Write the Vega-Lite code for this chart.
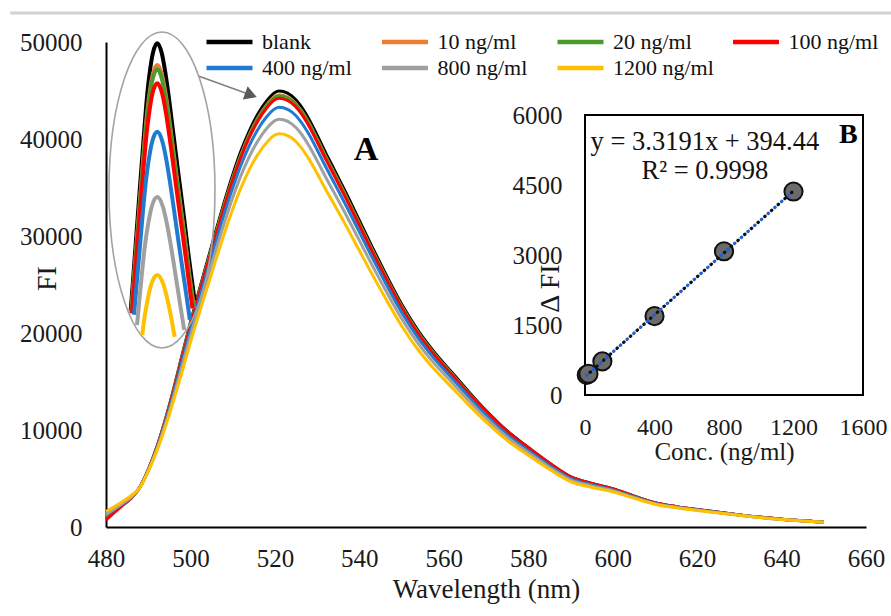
{
"$schema": "https://vega.github.io/schema/vega-lite/v6.json",
"width": 760, "height": 485,
"autosize": {"type": "none"},
"padding": {"left": 106, "top": 42, "right": 25, "bottom": 89},
"background": "white",
"config": {"view": {"stroke": null}, "font": "Liberation Serif"},
"datasets": {
"spectra": [
{"nm":480,"sample":"blank","FI":900},{"nm":480,"sample":"10 ng/ml","FI":1000},{"nm":480,"sample":"20 ng/ml","FI":950},{"nm":480,"sample":"100 ng/ml","FI":700},{"nm":480,"sample":"400 ng/ml","FI":1200},{"nm":480,"sample":"800 ng/ml","FI":1300},{"nm":480,"sample":"1200 ng/ml","FI":1600},
{"nm":482,"sample":"blank","FI":1600},{"nm":482,"sample":"10 ng/ml","FI":1650},{"nm":482,"sample":"20 ng/ml","FI":1620},{"nm":482,"sample":"100 ng/ml","FI":1500},{"nm":482,"sample":"400 ng/ml","FI":1800},{"nm":482,"sample":"800 ng/ml","FI":1850},{"nm":482,"sample":"1200 ng/ml","FI":2100},
{"nm":484,"sample":"blank","FI":2300},{"nm":484,"sample":"10 ng/ml","FI":2320},{"nm":484,"sample":"20 ng/ml","FI":2310},{"nm":484,"sample":"100 ng/ml","FI":2250},{"nm":484,"sample":"400 ng/ml","FI":2400},{"nm":484,"sample":"800 ng/ml","FI":2450},{"nm":484,"sample":"1200 ng/ml","FI":2650},
{"nm":486,"sample":"blank","FI":3000},{"nm":486,"sample":"10 ng/ml","FI":3000},{"nm":486,"sample":"20 ng/ml","FI":3000},{"nm":486,"sample":"100 ng/ml","FI":2980},{"nm":486,"sample":"400 ng/ml","FI":3050},{"nm":486,"sample":"800 ng/ml","FI":3080},{"nm":486,"sample":"1200 ng/ml","FI":3250},
{"nm":488,"sample":"blank","FI":4100},{"nm":488,"sample":"10 ng/ml","FI":4100},{"nm":488,"sample":"20 ng/ml","FI":4100},{"nm":488,"sample":"100 ng/ml","FI":4090},{"nm":488,"sample":"400 ng/ml","FI":4080},{"nm":488,"sample":"800 ng/ml","FI":4070},{"nm":488,"sample":"1200 ng/ml","FI":4060},
{"nm":490,"sample":"blank","FI":5900},{"nm":490,"sample":"10 ng/ml","FI":5880},{"nm":490,"sample":"20 ng/ml","FI":5880},{"nm":490,"sample":"100 ng/ml","FI":5870},{"nm":490,"sample":"400 ng/ml","FI":5830},{"nm":490,"sample":"800 ng/ml","FI":5790},{"nm":490,"sample":"1200 ng/ml","FI":5730},
{"nm":492,"sample":"blank","FI":8200},{"nm":492,"sample":"10 ng/ml","FI":8160},{"nm":492,"sample":"20 ng/ml","FI":8160},{"nm":492,"sample":"100 ng/ml","FI":8130},{"nm":492,"sample":"400 ng/ml","FI":8050},{"nm":492,"sample":"800 ng/ml","FI":7930},{"nm":492,"sample":"1200 ng/ml","FI":7800},
{"nm":494,"sample":"blank","FI":11000},{"nm":494,"sample":"10 ng/ml","FI":10930},{"nm":494,"sample":"20 ng/ml","FI":10920},{"nm":494,"sample":"100 ng/ml","FI":10870},{"nm":494,"sample":"400 ng/ml","FI":10710},{"nm":494,"sample":"800 ng/ml","FI":10500},{"nm":494,"sample":"1200 ng/ml","FI":10250},
{"nm":496,"sample":"blank","FI":14200},{"nm":496,"sample":"10 ng/ml","FI":14090},{"nm":496,"sample":"20 ng/ml","FI":14070},{"nm":496,"sample":"100 ng/ml","FI":14000},{"nm":496,"sample":"400 ng/ml","FI":13750},{"nm":496,"sample":"800 ng/ml","FI":13420},{"nm":496,"sample":"1200 ng/ml","FI":13020},
{"nm":498,"sample":"blank","FI":17700},{"nm":498,"sample":"10 ng/ml","FI":17540},{"nm":498,"sample":"20 ng/ml","FI":17510},{"nm":498,"sample":"100 ng/ml","FI":17400},{"nm":498,"sample":"400 ng/ml","FI":17040},{"nm":498,"sample":"800 ng/ml","FI":16550},{"nm":498,"sample":"1200 ng/ml","FI":15970},
{"nm":500,"sample":"blank","FI":21100},{"nm":500,"sample":"10 ng/ml","FI":20910},{"nm":500,"sample":"20 ng/ml","FI":20870},{"nm":500,"sample":"100 ng/ml","FI":20740},{"nm":500,"sample":"400 ng/ml","FI":20310},{"nm":500,"sample":"800 ng/ml","FI":19730},{"nm":500,"sample":"1200 ng/ml","FI":19030},
{"nm":502,"sample":"blank","FI":24300},{"nm":502,"sample":"10 ng/ml","FI":24080},{"nm":502,"sample":"20 ng/ml","FI":24040},{"nm":502,"sample":"100 ng/ml","FI":23890},{"nm":502,"sample":"400 ng/ml","FI":23390},{"nm":502,"sample":"800 ng/ml","FI":22720},{"nm":502,"sample":"1200 ng/ml","FI":21920},
{"nm":504,"sample":"blank","FI":27400},{"nm":504,"sample":"10 ng/ml","FI":27150},{"nm":504,"sample":"20 ng/ml","FI":27100},{"nm":504,"sample":"100 ng/ml","FI":26940},{"nm":504,"sample":"400 ng/ml","FI":26380},{"nm":504,"sample":"800 ng/ml","FI":25620},{"nm":504,"sample":"1200 ng/ml","FI":24720},
{"nm":506,"sample":"blank","FI":30500},{"nm":506,"sample":"10 ng/ml","FI":30220},{"nm":506,"sample":"20 ng/ml","FI":30170},{"nm":506,"sample":"100 ng/ml","FI":29990},{"nm":506,"sample":"400 ng/ml","FI":29360},{"nm":506,"sample":"800 ng/ml","FI":28520},{"nm":506,"sample":"1200 ng/ml","FI":27510},
{"nm":508,"sample":"blank","FI":33500},{"nm":508,"sample":"10 ng/ml","FI":33200},{"nm":508,"sample":"20 ng/ml","FI":33140},{"nm":508,"sample":"100 ng/ml","FI":32930},{"nm":508,"sample":"400 ng/ml","FI":32250},{"nm":508,"sample":"800 ng/ml","FI":31320},{"nm":508,"sample":"1200 ng/ml","FI":30220},
{"nm":510,"sample":"blank","FI":36300},{"nm":510,"sample":"10 ng/ml","FI":35970},{"nm":510,"sample":"20 ng/ml","FI":35900},{"nm":510,"sample":"100 ng/ml","FI":35690},{"nm":510,"sample":"400 ng/ml","FI":34940},{"nm":510,"sample":"800 ng/ml","FI":33940},{"nm":510,"sample":"1200 ng/ml","FI":32750},
{"nm":512,"sample":"blank","FI":38800},{"nm":512,"sample":"10 ng/ml","FI":38450},{"nm":512,"sample":"20 ng/ml","FI":38380},{"nm":512,"sample":"100 ng/ml","FI":38140},{"nm":512,"sample":"400 ng/ml","FI":37350},{"nm":512,"sample":"800 ng/ml","FI":36280},{"nm":512,"sample":"1200 ng/ml","FI":35000},
{"nm":514,"sample":"blank","FI":40900},{"nm":514,"sample":"10 ng/ml","FI":40530},{"nm":514,"sample":"20 ng/ml","FI":40450},{"nm":514,"sample":"100 ng/ml","FI":40210},{"nm":514,"sample":"400 ng/ml","FI":39370},{"nm":514,"sample":"800 ng/ml","FI":38240},{"nm":514,"sample":"1200 ng/ml","FI":36900},
{"nm":516,"sample":"blank","FI":42600},{"nm":516,"sample":"10 ng/ml","FI":42210},{"nm":516,"sample":"20 ng/ml","FI":42140},{"nm":516,"sample":"100 ng/ml","FI":41880},{"nm":516,"sample":"400 ng/ml","FI":41010},{"nm":516,"sample":"800 ng/ml","FI":39830},{"nm":516,"sample":"1200 ng/ml","FI":38430},
{"nm":518,"sample":"blank","FI":43900},{"nm":518,"sample":"10 ng/ml","FI":43500},{"nm":518,"sample":"20 ng/ml","FI":43420},{"nm":518,"sample":"100 ng/ml","FI":43160},{"nm":518,"sample":"400 ng/ml","FI":42260},{"nm":518,"sample":"800 ng/ml","FI":41050},{"nm":518,"sample":"1200 ng/ml","FI":39600},
{"nm":520,"sample":"blank","FI":44800},{"nm":520,"sample":"10 ng/ml","FI":44390},{"nm":520,"sample":"20 ng/ml","FI":44310},{"nm":520,"sample":"100 ng/ml","FI":44040},{"nm":520,"sample":"400 ng/ml","FI":43120},{"nm":520,"sample":"800 ng/ml","FI":41890},{"nm":520,"sample":"1200 ng/ml","FI":40410},
{"nm":521,"sample":"blank","FI":44950},{"nm":521,"sample":"10 ng/ml","FI":44540},{"nm":521,"sample":"20 ng/ml","FI":44460},{"nm":521,"sample":"100 ng/ml","FI":44190},{"nm":521,"sample":"400 ng/ml","FI":43270},{"nm":521,"sample":"800 ng/ml","FI":42030},{"nm":521,"sample":"1200 ng/ml","FI":40550},
{"nm":522,"sample":"blank","FI":44900},{"nm":522,"sample":"10 ng/ml","FI":44490},{"nm":522,"sample":"20 ng/ml","FI":44410},{"nm":522,"sample":"100 ng/ml","FI":44140},{"nm":522,"sample":"400 ng/ml","FI":43220},{"nm":522,"sample":"800 ng/ml","FI":41980},{"nm":522,"sample":"1200 ng/ml","FI":40500},
{"nm":524,"sample":"blank","FI":44450},{"nm":524,"sample":"10 ng/ml","FI":44050},{"nm":524,"sample":"20 ng/ml","FI":43970},{"nm":524,"sample":"100 ng/ml","FI":43700},{"nm":524,"sample":"400 ng/ml","FI":42790},{"nm":524,"sample":"800 ng/ml","FI":41560},{"nm":524,"sample":"1200 ng/ml","FI":40100},
{"nm":526,"sample":"blank","FI":43500},{"nm":526,"sample":"10 ng/ml","FI":43100},{"nm":526,"sample":"20 ng/ml","FI":43030},{"nm":526,"sample":"100 ng/ml","FI":42770},{"nm":526,"sample":"400 ng/ml","FI":41870},{"nm":526,"sample":"800 ng/ml","FI":40670},{"nm":526,"sample":"1200 ng/ml","FI":39240},
{"nm":528,"sample":"blank","FI":42100},{"nm":528,"sample":"10 ng/ml","FI":41720},{"nm":528,"sample":"20 ng/ml","FI":41640},{"nm":528,"sample":"100 ng/ml","FI":41390},{"nm":528,"sample":"400 ng/ml","FI":40530},{"nm":528,"sample":"800 ng/ml","FI":39360},{"nm":528,"sample":"1200 ng/ml","FI":37980},
{"nm":530,"sample":"blank","FI":40400},{"nm":530,"sample":"10 ng/ml","FI":40030},{"nm":530,"sample":"20 ng/ml","FI":39960},{"nm":530,"sample":"100 ng/ml","FI":39720},{"nm":530,"sample":"400 ng/ml","FI":38890},{"nm":530,"sample":"800 ng/ml","FI":37770},{"nm":530,"sample":"1200 ng/ml","FI":36450},
{"nm":532,"sample":"blank","FI":38600},{"nm":532,"sample":"10 ng/ml","FI":38250},{"nm":532,"sample":"20 ng/ml","FI":38180},{"nm":532,"sample":"100 ng/ml","FI":37950},{"nm":532,"sample":"400 ng/ml","FI":37160},{"nm":532,"sample":"800 ng/ml","FI":36090},{"nm":532,"sample":"1200 ng/ml","FI":34820},
{"nm":534,"sample":"blank","FI":36900},{"nm":534,"sample":"10 ng/ml","FI":36560},{"nm":534,"sample":"20 ng/ml","FI":36500},{"nm":534,"sample":"100 ng/ml","FI":36280},{"nm":534,"sample":"400 ng/ml","FI":35520},{"nm":534,"sample":"800 ng/ml","FI":34500},{"nm":534,"sample":"1200 ng/ml","FI":33290},
{"nm":537,"sample":"blank","FI":34300},{"nm":537,"sample":"10 ng/ml","FI":33990},{"nm":537,"sample":"20 ng/ml","FI":33930},{"nm":537,"sample":"100 ng/ml","FI":33720},{"nm":537,"sample":"400 ng/ml","FI":33020},{"nm":537,"sample":"800 ng/ml","FI":32070},{"nm":537,"sample":"1200 ng/ml","FI":30940},
{"nm":540,"sample":"blank","FI":31600},{"nm":540,"sample":"10 ng/ml","FI":31310},{"nm":540,"sample":"20 ng/ml","FI":31260},{"nm":540,"sample":"100 ng/ml","FI":31070},{"nm":540,"sample":"400 ng/ml","FI":30420},{"nm":540,"sample":"800 ng/ml","FI":29550},{"nm":540,"sample":"1200 ng/ml","FI":28510},
{"nm":543,"sample":"blank","FI":28900},{"nm":543,"sample":"10 ng/ml","FI":28640},{"nm":543,"sample":"20 ng/ml","FI":28590},{"nm":543,"sample":"100 ng/ml","FI":28410},{"nm":543,"sample":"400 ng/ml","FI":27820},{"nm":543,"sample":"800 ng/ml","FI":27020},{"nm":543,"sample":"1200 ng/ml","FI":26070},
{"nm":546,"sample":"blank","FI":26300},{"nm":546,"sample":"10 ng/ml","FI":26060},{"nm":546,"sample":"20 ng/ml","FI":26010},{"nm":546,"sample":"100 ng/ml","FI":25860},{"nm":546,"sample":"400 ng/ml","FI":25320},{"nm":546,"sample":"800 ng/ml","FI":24590},{"nm":546,"sample":"1200 ng/ml","FI":23730},
{"nm":550,"sample":"blank","FI":23000},{"nm":550,"sample":"10 ng/ml","FI":22790},{"nm":550,"sample":"20 ng/ml","FI":22750},{"nm":550,"sample":"100 ng/ml","FI":22610},{"nm":550,"sample":"400 ng/ml","FI":22140},{"nm":550,"sample":"800 ng/ml","FI":21510},{"nm":550,"sample":"1200 ng/ml","FI":20750},
{"nm":554,"sample":"blank","FI":20200},{"nm":554,"sample":"10 ng/ml","FI":20020},{"nm":554,"sample":"20 ng/ml","FI":19980},{"nm":554,"sample":"100 ng/ml","FI":19860},{"nm":554,"sample":"400 ng/ml","FI":19450},{"nm":554,"sample":"800 ng/ml","FI":18890},{"nm":554,"sample":"1200 ng/ml","FI":18220},
{"nm":558,"sample":"blank","FI":17900},{"nm":558,"sample":"10 ng/ml","FI":17740},{"nm":558,"sample":"20 ng/ml","FI":17710},{"nm":558,"sample":"100 ng/ml","FI":17600},{"nm":558,"sample":"400 ng/ml","FI":17230},{"nm":558,"sample":"800 ng/ml","FI":16740},{"nm":558,"sample":"1200 ng/ml","FI":16150},
{"nm":562,"sample":"blank","FI":15900},{"nm":562,"sample":"10 ng/ml","FI":15760},{"nm":562,"sample":"20 ng/ml","FI":15730},{"nm":562,"sample":"100 ng/ml","FI":15630},{"nm":562,"sample":"400 ng/ml","FI":15310},{"nm":562,"sample":"800 ng/ml","FI":14870},{"nm":562,"sample":"1200 ng/ml","FI":14340},
{"nm":566,"sample":"blank","FI":13900},{"nm":566,"sample":"10 ng/ml","FI":13770},{"nm":566,"sample":"20 ng/ml","FI":13750},{"nm":566,"sample":"100 ng/ml","FI":13670},{"nm":566,"sample":"400 ng/ml","FI":13380},{"nm":566,"sample":"800 ng/ml","FI":13000},{"nm":566,"sample":"1200 ng/ml","FI":12540},
{"nm":570,"sample":"blank","FI":12000},{"nm":570,"sample":"10 ng/ml","FI":11890},{"nm":570,"sample":"20 ng/ml","FI":11870},{"nm":570,"sample":"100 ng/ml","FI":11960},{"nm":570,"sample":"400 ng/ml","FI":11550},{"nm":570,"sample":"800 ng/ml","FI":11220},{"nm":570,"sample":"1200 ng/ml","FI":10830},
{"nm":575,"sample":"blank","FI":9900},{"nm":575,"sample":"10 ng/ml","FI":9810},{"nm":575,"sample":"20 ng/ml","FI":9790},{"nm":575,"sample":"100 ng/ml","FI":9870},{"nm":575,"sample":"400 ng/ml","FI":9530},{"nm":575,"sample":"800 ng/ml","FI":9260},{"nm":575,"sample":"1200 ng/ml","FI":8930},
{"nm":580,"sample":"blank","FI":8200},{"nm":580,"sample":"10 ng/ml","FI":8130},{"nm":580,"sample":"20 ng/ml","FI":8110},{"nm":580,"sample":"100 ng/ml","FI":8170},{"nm":580,"sample":"400 ng/ml","FI":7890},{"nm":580,"sample":"800 ng/ml","FI":7670},{"nm":580,"sample":"1200 ng/ml","FI":7400},
{"nm":585,"sample":"blank","FI":6600},{"nm":585,"sample":"10 ng/ml","FI":6540},{"nm":585,"sample":"20 ng/ml","FI":6530},{"nm":585,"sample":"100 ng/ml","FI":6580},{"nm":585,"sample":"400 ng/ml","FI":6350},{"nm":585,"sample":"800 ng/ml","FI":6170},{"nm":585,"sample":"1200 ng/ml","FI":5950},
{"nm":590,"sample":"blank","FI":5200},{"nm":590,"sample":"10 ng/ml","FI":5150},{"nm":590,"sample":"20 ng/ml","FI":5140},{"nm":590,"sample":"100 ng/ml","FI":5180},{"nm":590,"sample":"400 ng/ml","FI":5010},{"nm":590,"sample":"800 ng/ml","FI":4860},{"nm":590,"sample":"1200 ng/ml","FI":4690},
{"nm":595,"sample":"blank","FI":4500},{"nm":595,"sample":"10 ng/ml","FI":4460},{"nm":595,"sample":"20 ng/ml","FI":4460},{"nm":595,"sample":"100 ng/ml","FI":4490},{"nm":595,"sample":"400 ng/ml","FI":4350},{"nm":595,"sample":"800 ng/ml","FI":4240},{"nm":595,"sample":"1200 ng/ml","FI":4100},
{"nm":600,"sample":"blank","FI":3950},{"nm":600,"sample":"10 ng/ml","FI":3920},{"nm":600,"sample":"20 ng/ml","FI":3920},{"nm":600,"sample":"100 ng/ml","FI":3940},{"nm":600,"sample":"400 ng/ml","FI":3830},{"nm":600,"sample":"800 ng/ml","FI":3750},{"nm":600,"sample":"1200 ng/ml","FI":3640},
{"nm":605,"sample":"blank","FI":3200},{"nm":605,"sample":"10 ng/ml","FI":3180},{"nm":605,"sample":"20 ng/ml","FI":3180},{"nm":605,"sample":"100 ng/ml","FI":3190},{"nm":605,"sample":"400 ng/ml","FI":3120},{"nm":605,"sample":"800 ng/ml","FI":3050},{"nm":605,"sample":"1200 ng/ml","FI":2980},
{"nm":610,"sample":"blank","FI":2500},{"nm":610,"sample":"10 ng/ml","FI":2490},{"nm":610,"sample":"20 ng/ml","FI":2480},{"nm":610,"sample":"100 ng/ml","FI":2500},{"nm":610,"sample":"400 ng/ml","FI":2440},{"nm":610,"sample":"800 ng/ml","FI":2400},{"nm":610,"sample":"1200 ng/ml","FI":2350},
{"nm":615,"sample":"blank","FI":2100},{"nm":615,"sample":"10 ng/ml","FI":2090},{"nm":615,"sample":"20 ng/ml","FI":2090},{"nm":615,"sample":"100 ng/ml","FI":2100},{"nm":615,"sample":"400 ng/ml","FI":2060},{"nm":615,"sample":"800 ng/ml","FI":2030},{"nm":615,"sample":"1200 ng/ml","FI":1990},
{"nm":620,"sample":"blank","FI":1800},{"nm":620,"sample":"10 ng/ml","FI":1790},{"nm":620,"sample":"20 ng/ml","FI":1790},{"nm":620,"sample":"100 ng/ml","FI":1800},{"nm":620,"sample":"400 ng/ml","FI":1770},{"nm":620,"sample":"800 ng/ml","FI":1740},{"nm":620,"sample":"1200 ng/ml","FI":1710},
{"nm":630,"sample":"blank","FI":1250},{"nm":630,"sample":"10 ng/ml","FI":1250},{"nm":630,"sample":"20 ng/ml","FI":1240},{"nm":630,"sample":"100 ng/ml","FI":1250},{"nm":630,"sample":"400 ng/ml","FI":1230},{"nm":630,"sample":"800 ng/ml","FI":1210},{"nm":630,"sample":"1200 ng/ml","FI":1200},
{"nm":640,"sample":"blank","FI":800},{"nm":640,"sample":"10 ng/ml","FI":800},{"nm":640,"sample":"20 ng/ml","FI":800},{"nm":640,"sample":"100 ng/ml","FI":800},{"nm":640,"sample":"400 ng/ml","FI":790},{"nm":640,"sample":"800 ng/ml","FI":780},{"nm":640,"sample":"1200 ng/ml","FI":770},
{"nm":650,"sample":"blank","FI":500},{"nm":650,"sample":"10 ng/ml","FI":500},{"nm":650,"sample":"20 ng/ml","FI":500},{"nm":650,"sample":"100 ng/ml","FI":500},{"nm":650,"sample":"400 ng/ml","FI":490},{"nm":650,"sample":"800 ng/ml","FI":490},{"nm":650,"sample":"1200 ng/ml","FI":480}
],
"lens": [
{"nm":514.18,"sample":"blank","FI":39877},{"nm":514.72,"sample":"blank","FI":40390},{"nm":515.28,"sample":"blank","FI":40960},{"nm":515.95,"sample":"blank","FI":41625},{"nm":516.56,"sample":"blank","FI":42233},{"nm":517.21,"sample":"blank","FI":42860},{"nm":517.85,"sample":"blank","FI":43487},{"nm":518.44,"sample":"blank","FI":44000},{"nm":519.13,"sample":"blank","FI":44437},{"nm":519.85,"sample":"blank","FI":44760},{"nm":521,"sample":"blank","FI":44950},{"nm":522.15,"sample":"blank","FI":44760},{"nm":522.97,"sample":"blank","FI":44437},{"nm":523.82,"sample":"blank","FI":44000},{"nm":524.69,"sample":"blank","FI":43487},{"nm":525.74,"sample":"blank","FI":42860},{"nm":526.82,"sample":"blank","FI":42233},{"nm":527.87,"sample":"blank","FI":41625},{"nm":528.95,"sample":"blank","FI":40960},{"nm":529.97,"sample":"blank","FI":40390},{"nm":530.56,"sample":"blank","FI":40067},
{"nm":514.33,"sample":"10 ng/ml","FI":39828},{"nm":514.49,"sample":"10 ng/ml","FI":39980},{"nm":515.08,"sample":"10 ng/ml","FI":40550},{"nm":515.77,"sample":"10 ng/ml","FI":41215},{"nm":516.41,"sample":"10 ng/ml","FI":41823},{"nm":517.07,"sample":"10 ng/ml","FI":42450},{"nm":517.73,"sample":"10 ng/ml","FI":43077},{"nm":518.34,"sample":"10 ng/ml","FI":43590},{"nm":519.06,"sample":"10 ng/ml","FI":44027},{"nm":519.81,"sample":"10 ng/ml","FI":44350},{"nm":521,"sample":"10 ng/ml","FI":44540},{"nm":522.2,"sample":"10 ng/ml","FI":44350},{"nm":523.05,"sample":"10 ng/ml","FI":44027},{"nm":523.92,"sample":"10 ng/ml","FI":43590},{"nm":524.83,"sample":"10 ng/ml","FI":43077},{"nm":525.91,"sample":"10 ng/ml","FI":42450},{"nm":527.03,"sample":"10 ng/ml","FI":41823},{"nm":528.12,"sample":"10 ng/ml","FI":41215},{"nm":529.23,"sample":"10 ng/ml","FI":40550},{"nm":530.3,"sample":"10 ng/ml","FI":39980},{"nm":530.4,"sample":"10 ng/ml","FI":39923},
{"nm":514.37,"sample":"20 ng/ml","FI":39824},{"nm":514.45,"sample":"20 ng/ml","FI":39900},{"nm":515.04,"sample":"20 ng/ml","FI":40470},{"nm":515.73,"sample":"20 ng/ml","FI":41135},{"nm":516.37,"sample":"20 ng/ml","FI":41743},{"nm":517.04,"sample":"20 ng/ml","FI":42370},{"nm":517.71,"sample":"20 ng/ml","FI":42997},{"nm":518.33,"sample":"20 ng/ml","FI":43510},{"nm":519.05,"sample":"20 ng/ml","FI":43947},{"nm":519.8,"sample":"20 ng/ml","FI":44270},{"nm":521,"sample":"20 ng/ml","FI":44460},{"nm":522.2,"sample":"20 ng/ml","FI":44270},{"nm":523.06,"sample":"20 ng/ml","FI":43947},{"nm":523.94,"sample":"20 ng/ml","FI":43510},{"nm":524.85,"sample":"20 ng/ml","FI":42997},{"nm":525.95,"sample":"20 ng/ml","FI":42370},{"nm":527.07,"sample":"20 ng/ml","FI":41743},{"nm":528.17,"sample":"20 ng/ml","FI":41135},{"nm":529.29,"sample":"20 ng/ml","FI":40470},{"nm":530.29,"sample":"20 ng/ml","FI":39938},
{"nm":514.5,"sample":"100 ng/ml","FI":39820},{"nm":514.9,"sample":"100 ng/ml","FI":40200},{"nm":515.61,"sample":"100 ng/ml","FI":40865},{"nm":516.27,"sample":"100 ng/ml","FI":41473},{"nm":516.95,"sample":"100 ng/ml","FI":42100},{"nm":517.64,"sample":"100 ng/ml","FI":42727},{"nm":518.26,"sample":"100 ng/ml","FI":43240},{"nm":519,"sample":"100 ng/ml","FI":43677},{"nm":519.77,"sample":"100 ng/ml","FI":44000},{"nm":521,"sample":"100 ng/ml","FI":44190},{"nm":522.23,"sample":"100 ng/ml","FI":44000},{"nm":523.11,"sample":"100 ng/ml","FI":43677},{"nm":524.01,"sample":"100 ng/ml","FI":43240},{"nm":524.94,"sample":"100 ng/ml","FI":42727},{"nm":526.06,"sample":"100 ng/ml","FI":42100},{"nm":527.21,"sample":"100 ng/ml","FI":41473},{"nm":528.33,"sample":"100 ng/ml","FI":40865},{"nm":529.48,"sample":"100 ng/ml","FI":40200},{"nm":530.03,"sample":"100 ng/ml","FI":39915},
{"nm":515.03,"sample":"400 ng/ml","FI":39793},{"nm":515.21,"sample":"400 ng/ml","FI":39945},{"nm":515.91,"sample":"400 ng/ml","FI":40553},{"nm":516.65,"sample":"400 ng/ml","FI":41180},{"nm":517.38,"sample":"400 ng/ml","FI":41807},{"nm":518.06,"sample":"400 ng/ml","FI":42320},{"nm":518.85,"sample":"400 ng/ml","FI":42757},{"nm":519.68,"sample":"400 ng/ml","FI":43080},{"nm":521,"sample":"400 ng/ml","FI":43270},{"nm":522.32,"sample":"400 ng/ml","FI":43080},{"nm":523.27,"sample":"400 ng/ml","FI":42757},{"nm":524.24,"sample":"400 ng/ml","FI":42320},{"nm":525.24,"sample":"400 ng/ml","FI":41807},{"nm":526.44,"sample":"400 ng/ml","FI":41180},{"nm":527.68,"sample":"400 ng/ml","FI":40553},{"nm":528.88,"sample":"400 ng/ml","FI":39945},{"nm":529.34,"sample":"400 ng/ml","FI":39698},
{"nm":515.8,"sample":"800 ng/ml","FI":39598},{"nm":516.23,"sample":"800 ng/ml","FI":39940},{"nm":517.04,"sample":"800 ng/ml","FI":40567},{"nm":517.78,"sample":"800 ng/ml","FI":41080},{"nm":518.65,"sample":"800 ng/ml","FI":41517},{"nm":519.55,"sample":"800 ng/ml","FI":41840},{"nm":521,"sample":"800 ng/ml","FI":42030},{"nm":522.45,"sample":"800 ng/ml","FI":41840},{"nm":523.48,"sample":"800 ng/ml","FI":41517},{"nm":524.54,"sample":"800 ng/ml","FI":41080},{"nm":525.64,"sample":"800 ng/ml","FI":40567},{"nm":526.96,"sample":"800 ng/ml","FI":39940},{"nm":527.9,"sample":"800 ng/ml","FI":39503},
{"nm":517.15,"sample":"1200 ng/ml","FI":39410},{"nm":517.45,"sample":"1200 ng/ml","FI":39600},{"nm":518.41,"sample":"1200 ng/ml","FI":40037},{"nm":519.4,"sample":"1200 ng/ml","FI":40360},{"nm":521,"sample":"1200 ng/ml","FI":40550},{"nm":522.6,"sample":"1200 ng/ml","FI":40360},{"nm":523.73,"sample":"1200 ng/ml","FI":40037},{"nm":524.91,"sample":"1200 ng/ml","FI":39600},{"nm":525.44,"sample":"1200 ng/ml","FI":39372}
],
"cal": [
{"conc":10,"dfi":430},{"conc":20,"dfi":455},{"conc":100,"dfi":720},{"conc":400,"dfi":1690},{"conc":800,"dfi":3080},{"conc":1200,"dfi":4360}
]
},
"layer": [
{
"layer": [
{
"data": {"name": "spectra"},
"mark": {"type": "line", "strokeWidth": 3, "interpolate": "monotone"},
"encoding": {
"x": {"field": "nm", "type": "quantitative",
"scale": {"domain": [480, 660], "nice": false, "zero": false},
"axis": {"title": "Wavelength (nm)", "values": [480,500,520,540,560,580,600,620,640,660], "ticks": false, "grid": false, "domainColor": "#000", "domainWidth": 2, "labelFont": "Liberation Serif", "labelFontSize": 25, "labelColor": "#1a1a1a", "labelPadding": 19, "labelFlush": false, "titleFont": "Liberation Serif", "titleFontSize": 27, "titleFontWeight": "normal", "titleColor": "#1a1a1a", "titlePadding": 5}},
"y": {"field": "FI", "type": "quantitative",
"scale": {"domain": [0, 50000], "nice": false},
"axis": {"title": "FI", "values": [0,10000,20000,30000,40000,50000], "format": "d", "ticks": false, "grid": false, "domainColor": "#000", "domainWidth": 2, "labelFont": "Liberation Serif", "labelFontSize": 25, "labelColor": "#1a1a1a", "labelPadding": 24, "titleFont": "Liberation Serif", "titleFontSize": 28, "titleFontWeight": "normal", "titleColor": "#1a1a1a", "titleX": -59, "titleY": 236, "titleAngle": -90, "titleBaseline": "middle", "titleAlign": "center"}},
"color": {"field": "sample", "type": "nominal",
"sort": ["blank","10 ng/ml","20 ng/ml","100 ng/ml","400 ng/ml","800 ng/ml","1200 ng/ml"],
"scale": {"domain": ["blank","10 ng/ml","20 ng/ml","100 ng/ml","400 ng/ml","800 ng/ml","1200 ng/ml"], "range": ["#000000","#ED7D31","#4A9A2C","#FF0000","#1F7BD0","#A0A0A0","#FFC000"]},
"legend": {"title": null, "orient": "none", "legendX": 98, "legendY": -11, "direction": "horizontal", "columns": 4, "gridAlign": "all", "columnPadding": 16.5, "rowPadding": 4, "clipHeight": 22, "symbolType": "stroke", "symbolSize": 2116, "symbolStrokeWidth": 4.5, "labelFont": "Liberation Serif", "labelFontSize": 22, "labelColor": "#111", "labelOffset": 7, "padding": 0}}
}
},
{
"data": {"values": [{"nm": 457.3, "nm2": 666, "FI": 52990}]},
"mark": {"type": "rule", "color": "#d2d2d2", "strokeWidth": 3},
"encoding": {
"x": {"field": "nm", "type": "quantitative"},
"x2": {"field": "nm2"},
"y": {"field": "FI", "type": "quantitative"}
}
},
{
"data": {"values": [{"nm": 501.9, "FI": 46500, "nm2": 514.34, "FI2": 44536}]},
"mark": {"type": "rule", "color": "#7f7f7f", "strokeWidth": 1.5},
"encoding": {
"x": {"field": "nm", "type": "quantitative"},
"x2": {"field": "nm2"},
"y": {"field": "FI", "type": "quantitative"},
"y2": {"field": "FI2"}
}
},
{
"data": {"values": [{"nm": 514.34, "FI": 44536}]},
"mark": {"type": "point", "shape": "triangle-right", "size": 200, "angle": 19.8, "filled": true, "color": "#5a5a5a", "opacity": 1},
"encoding": {
"x": {"field": "nm", "type": "quantitative"},
"y": {"field": "FI", "type": "quantitative"}
}
},
{
"data": {"values": [{"nm": 541.6, "FI": 37835, "label": "A"}]},
"mark": {"type": "text", "font": "Liberation Serif", "fontSize": 34, "fontWeight": "bold", "align": "center", "baseline": "alphabetic", "color": "#000"},
"encoding": {
"x": {"field": "nm", "type": "quantitative"},
"y": {"field": "FI", "type": "quantitative"},
"text": {"field": "label"}
}
}
]
},
{
"layer": [
{
"data": {"values": [{"nm": 522.2, "FI": 42163}]},
"mark": {"type": "point", "shape": "M0,-1A0.3354,1 0 1,1 0,1A0.3354,1 0 1,1 0,-1Z", "size": 99856, "filled": false, "stroke": "#a3a3a3", "strokeWidth": 1.6, "opacity": 1},
"encoding": {
"x": {"field": "nm", "type": "quantitative", "scale": {"domain": [508, 534], "range": [0.6, 102], "nice": false, "zero": false}, "axis": null},
"y": {"field": "FI", "type": "quantitative", "scale": {"domain": [39000, 45500], "range": [314.5, -27.6], "nice": false, "zero": false}, "axis": null}
}
},
{
"data": {"name": "lens"},
"mark": {"type": "line", "strokeWidth": 4, "interpolate": "monotone"},
"encoding": {
"x": {"field": "nm", "type": "quantitative", "scale": {"domain": [508, 534], "range": [0.6, 102], "nice": false, "zero": false}, "axis": null},
"y": {"field": "FI", "type": "quantitative", "scale": {"domain": [39000, 45500], "range": [314.5, -27.6], "nice": false, "zero": false}, "axis": null},
"color": {"field": "sample", "type": "nominal",
"sort": ["blank","10 ng/ml","20 ng/ml","100 ng/ml","400 ng/ml","800 ng/ml","1200 ng/ml"],
"scale": {"domain": ["blank","10 ng/ml","20 ng/ml","100 ng/ml","400 ng/ml","800 ng/ml","1200 ng/ml"], "range": ["#000000","#ED7D31","#4A9A2C","#FF0000","#1F7BD0","#A0A0A0","#FFC000"]},
"legend": null}
}
}
]
},
{
"layer": [
{
"data": {"values": [{"conc": 0, "conc2": 1600, "dfi": 0, "dfi2": 6000}]},
"mark": {"type": "rect", "filled": false, "color": "#000", "strokeWidth": 2},
"encoding": {
"x": {"field": "conc", "type": "quantitative", "scale": {"domain": [0, 1600], "range": [479, 757], "nice": false, "zero": false},
"axis": {"orient": "bottom", "offset": -132, "title": "Conc. (ng/ml)", "values": [0,400,800,1200,1600], "format": "d", "ticks": false, "domain": false, "grid": false, "labelFont": "Liberation Serif", "labelFontSize": 24, "labelColor": "#1a1a1a", "labelPadding": 20, "labelFlush": false, "titleFont": "Liberation Serif", "titleFontSize": 25, "titleFontWeight": "normal", "titleColor": "#1a1a1a", "titleY": 56, "titleBaseline": "middle"}},
"x2": {"field": "conc2"},
"y": {"field": "dfi", "type": "quantitative", "scale": {"domain": [0, 6000], "range": [353, 73], "nice": false, "zero": false},
"axis": {"orient": "left", "offset": -479, "title": "Δ FI", "values": [0,1500,3000,4500,6000], "format": "d", "ticks": false, "domain": false, "grid": false, "labelFont": "Liberation Serif", "labelFontSize": 25, "labelColor": "#1a1a1a", "labelPadding": 23, "titleFont": "Liberation Serif", "titleFontSize": 28, "titleFontWeight": "normal", "titleColor": "#1a1a1a", "titleX": -35, "titleY": 246, "titleAngle": -90, "titleBaseline": "middle", "titleAlign": "center"}},
"y2": {"field": "dfi2"}
}
},
{
"data": {"name": "cal"},
"mark": {"type": "circle", "size": 330, "fill": "#6b6b6b", "stroke": "#111", "strokeWidth": 2, "opacity": 1},
"encoding": {
"x": {"field": "conc", "type": "quantitative", "scale": {"domain": [0, 1600], "range": [479, 757], "nice": false, "zero": false}},
"y": {"field": "dfi", "type": "quantitative", "scale": {"domain": [0, 6000], "range": [353, 73], "nice": false, "zero": false}}
}
},
{
"data": {"name": "cal"},
"transform": [{"regression": "dfi", "on": "conc"}],
"mark": {"type": "line", "color": "#111", "strokeWidth": 3.2, "strokeDash": [0.5, 8.5], "strokeDashOffset": 4.5, "strokeCap": "round"},
"encoding": {
"x": {"field": "conc", "type": "quantitative", "scale": {"domain": [0, 1600], "range": [479, 757], "nice": false, "zero": false}},
"y": {"field": "dfi", "type": "quantitative", "scale": {"domain": [0, 6000], "range": [353, 73], "nice": false, "zero": false}}
}
},
{
"data": {"name": "cal"},
"transform": [{"regression": "dfi", "on": "conc"}],
"mark": {"type": "line", "color": "#1f5fd8", "strokeWidth": 3.2, "strokeDash": [0.5, 8.5], "strokeCap": "round"},
"encoding": {
"x": {"field": "conc", "type": "quantitative", "scale": {"domain": [0, 1600], "range": [479, 757], "nice": false, "zero": false}},
"y": {"field": "dfi", "type": "quantitative", "scale": {"domain": [0, 6000], "range": [353, 73], "nice": false, "zero": false}}
}
},
{
"data": {"values": [
{"conc": 690, "dfi": 5250, "label": "y = 3.3191x + 394.44"},
{"conc": 690, "dfi": 4622, "label": "R² = 0.9998"}
]},
"mark": {"type": "text", "font": "Liberation Serif", "fontSize": 26.5, "align": "center", "baseline": "alphabetic", "color": "#111"},
"encoding": {
"x": {"field": "conc", "type": "quantitative", "scale": {"domain": [0, 1600], "range": [479, 757], "nice": false, "zero": false}},
"y": {"field": "dfi", "type": "quantitative", "scale": {"domain": [0, 6000], "range": [353, 73], "nice": false, "zero": false}},
"text": {"field": "label"}
}
},
{
"data": {"values": [{"conc": 1515, "dfi": 5394, "label": "B"}]},
"mark": {"type": "text", "font": "Liberation Serif", "fontSize": 28, "fontWeight": "bold", "align": "center", "baseline": "alphabetic", "color": "#000"},
"encoding": {
"x": {"field": "conc", "type": "quantitative", "scale": {"domain": [0, 1600], "range": [479, 757], "nice": false, "zero": false}},
"y": {"field": "dfi", "type": "quantitative", "scale": {"domain": [0, 6000], "range": [353, 73], "nice": false, "zero": false}},
"text": {"field": "label"}
}
}
]
}
],
"resolve": {"scale": {"x": "independent", "y": "independent"}}
}
